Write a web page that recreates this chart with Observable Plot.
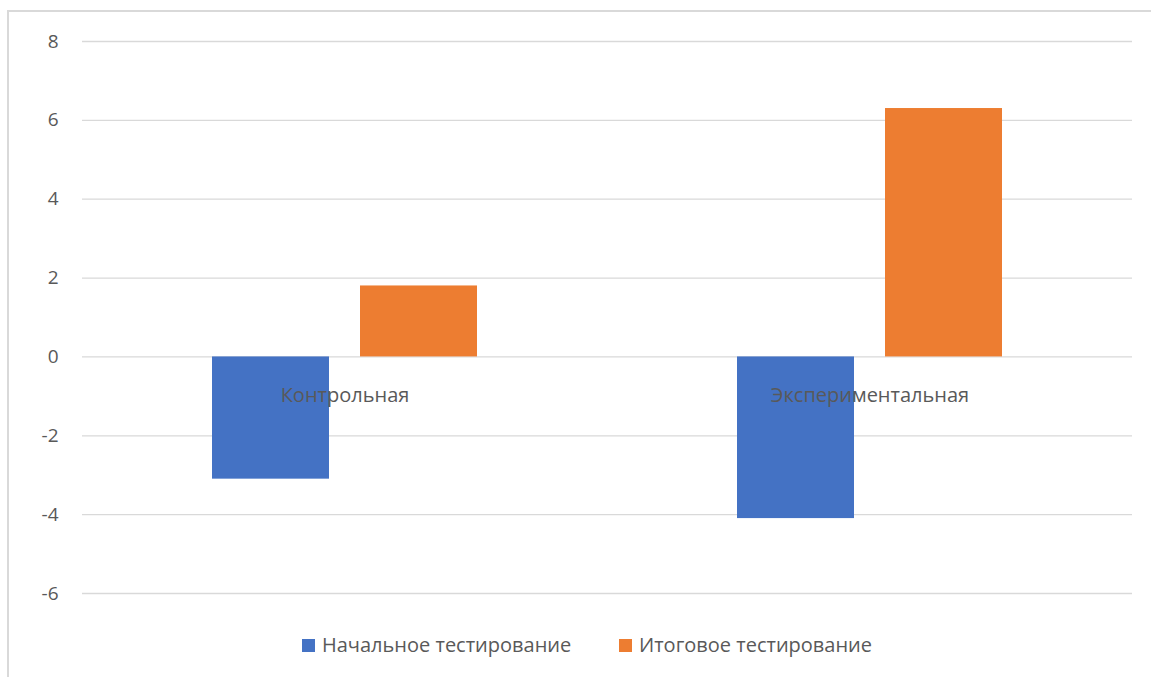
<!DOCTYPE html>
<html>
<head>
<meta charset="utf-8">
<script src="https://cdn.jsdelivr.net/npm/d3@7"></script>
<script src="https://cdn.jsdelivr.net/npm/@observablehq/plot@0.6"></script>
<style>
  html, body { margin: 0; padding: 0; background: #fff; }
  #wrap { position: relative; width: 1151px; height: 677px; overflow: hidden; font-family: "Open Sans", sans-serif; }
  #frame { position: absolute; left: 7px; top: 10px; width: 1160px; height: 680px; border-top: 2px solid #d9d9d9; border-left: 2px solid #d9d9d9; box-sizing: border-box; }
  #chart { position: absolute; left: 0; top: 0; }
  .leg { position: absolute; top: 631px; height: 28px; line-height: 28px; display: flex; align-items: center; font-size: 20px; color: #595959; white-space: nowrap; }
  .sw { width: 13px; height: 13px; margin-right: 7px; }
</style>
</head>
<body>
<div id="wrap">
  <div id="frame"></div>
  <div id="chart"></div>
  <div id="legend"></div>
</div>
<script>
const categories = ["Контрольная", "Экспериментальная"];
const series = ["Начальное тестирование", "Итоговое тестирование"];
const initialValues = [-3.1, -4.1];
const finalValues = [1.8, 6.3];
const yTicks = [-6, -4, -2, 0, 2, 4, 6, 8];
const colors = ["#4472C4", "#ED7D31"];

const data = categories.flatMap((c, i) => [
  {cat: c, series: series[0], value: initialValues[i]},
  {cat: c, series: series[1], value: finalValues[i]}
]);

const chart = Plot.plot({
  width: 1151,
  height: 620,
  marginLeft: 81,
  marginRight: 19,
  marginTop: 41,
  marginBottom: 27,
  style: {fontFamily: "'Open Sans', sans-serif", color: "#595959", background: "transparent"},
  fx: {domain: categories, padding: 0, axis: null},
  x: {domain: series, paddingInner: 0.208, paddingOuter: 0.8675, axis: null},
  y: {domain: [-6, 8], label: null},
  color: {domain: series, range: colors},
  marks: [
    Plot.gridY(yTicks, {stroke: "#d9d9d9", strokeOpacity: 1, strokeWidth: 1.3}),
    Plot.barY(data, {fx: "cat", x: "series", y: "value", fill: "series"}),
    Plot.axisY(yTicks, {tickSize: 0, tickPadding: 24, fontSize: 19, fill: "#595959", label: null, tickFormat: d => String(d)}),
    Plot.text(categories, {fx: d => d, text: d => d, y: 0, dy: 39, fontSize: 20, fill: "#595959"})
  ]
});
document.getElementById("chart").appendChild(chart);

const legend = document.getElementById("legend");
const legX = [302, 619];
series.forEach((s, i) => {
  const item = document.createElement("div");
  item.className = "leg";
  item.style.left = legX[i] + "px";
  item.innerHTML = `<div class="sw" style="background:${colors[i]}"></div><span>${s}</span>`;
  legend.appendChild(item);
});
</script>
</body>
</html>
